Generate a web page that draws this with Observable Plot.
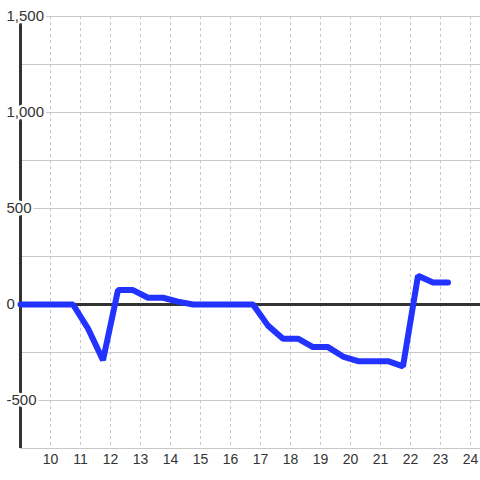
<!DOCTYPE html>
<html>
<head>
<meta charset="utf-8">
<script src="https://cdn.jsdelivr.net/npm/d3@7"></script>
<script src="https://cdn.jsdelivr.net/npm/@observablehq/plot@0.6"></script>
<style>
  html, body { margin: 0; padding: 0; background: #fff; }
  svg { display: block; }
</style>
</head>
<body>
<div id="chart"></div>
<script>
const hours = [9, 9.25, 9.75, 10.25, 10.75, 11.25, 11.75, 12.25, 12.75, 13.25, 13.75, 14.25, 14.75, 15.25, 15.75, 16.25, 16.75, 17.25, 17.75, 18.25, 18.75, 19.25, 19.75, 20.25, 20.75, 21.25, 21.75, 22.25, 22.75, 23.25];
const values = [0, 0, 0, 0, 0, -125, -290, 75, 75, 35, 35, 15, 0, 0, 0, 0, 0, -110, -178, -178, -222, -222, -271, -295, -295, -295, -322, 150, 115, 115];
const yTicks = [-750, -500, -250, 0, 250, 500, 750, 1000, 1250, 1500];
const yLabels = [-500, 0, 500, 1000, 1500];
const xTicks = [10, 11, 12, 13, 14, 15, 16, 17, 18, 19, 20, 21, 22, 23, 24];

const data = hours.map((h, i) => ({ h, v: values[i] }));
const fmt = d => d3.format(",")(d).replace("\u2212", "-");

const chart = Plot.plot({
  width: 480,
  height: 480,
  marginLeft: 20,
  marginRight: 0,
  marginTop: 16,
  marginBottom: 32,
  style: { fontFamily: "'Liberation Sans', Arial, sans-serif", background: "#fff" },
  x: { domain: [9, 24.3333], axis: null, label: null },
  y: { domain: [-750, 1500], axis: null, label: null },
  marks: [
    Plot.ruleY(yTicks, { stroke: "#c8c8c8", strokeWidth: 1 }),
    Plot.ruleX(xTicks, { stroke: "#c8c8c8", strokeWidth: 1, strokeDasharray: "3,3" }),
    Plot.ruleY([0], { stroke: "#333", strokeWidth: 3 }),
    Plot.ruleX([9], { stroke: "#333", strokeWidth: 3 }),
    Plot.text(yLabels, {
      x: () => 9, y: d => d, text: d => fmt(d),
      textAnchor: "start", dx: -14, fontSize: 15, fill: "#333",
      stroke: "#fff", strokeWidth: 5
    }),
    Plot.line(data, { x: "h", y: "v", stroke: "#2233ff", strokeWidth: 6, strokeLinejoin: "miter" }),
    Plot.axisX(xTicks, { tickSize: 0, tickPadding: 6, fontSize: 14, color: "#333", label: null, tickFormat: d => String(d) })
  ]
});
document.getElementById("chart").appendChild(chart);
</script>
</body>
</html>
